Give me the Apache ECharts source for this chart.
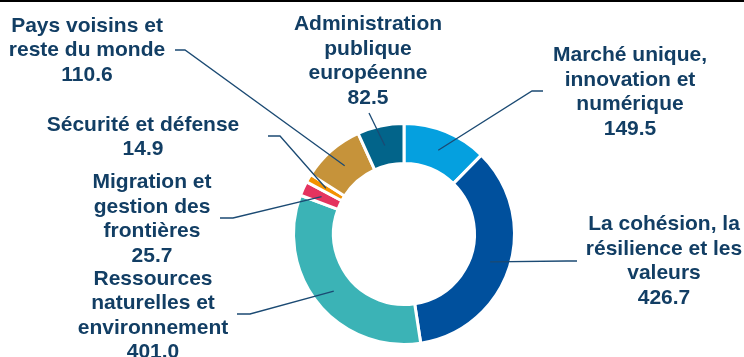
<!DOCTYPE html>
<html>
<head>
<meta charset="utf-8">
<script src="https://cdn.jsdelivr.net/npm/echarts@6/dist/echarts.min.js"></script>
<style>
html,body{margin:0;padding:0;background:#fff;}
#c{width:744px;height:357px;}
</style>
</head>
<body>
<div id="c"></div>
<script>
// ---- data ----
var categories = [
  "Marché unique,\ninnovation et\nnumérique",
  "La cohésion, la\nrésilience et les\nvaleurs",
  "Ressources\nnaturelles et\nenvironnement",
  "Migration et\ngestion des\nfrontières",
  "Sécurité et défense",
  "Pays voisins et\nreste du monde",
  "Administration\npublique\neuropéenne"
];
var values = [149.5, 426.7, 401.0, 25.7, 14.9, 110.6, 82.5];
var colors = ["#05A0DF", "#00509D", "#3BB3B6", "#E4335F", "#F39200", "#C6933A", "#02648A"];

// ---- layout (label placement, pixels) ----
var CX = 404, CY = 234, R_IN = 70.5, R_OUT = 110.5, R_MID = 90.5;
var labelPos = [
  {x: 630, y: 92,  line: [[532, 91], [543, 91]]},
  {x: 664, y: 261, line: [[567, 261], [577, 261]]},
  {x: 153, y: 315.5, line: [[250, 314], [237, 314]]},
  {x: 152, y: 219, line: [[233, 218], [220, 218]]},
  {x: 143, y: 137, line: [[280, 136], [268, 136]]},
  {x: 87,  y: 50.5, line: [[185, 50], [175, 50]]},
  {x: 368, y: 61,  line: [[369, 113], [369, 113]]}
];

var total = values.reduce(function (a, b) { return a + b; }, 0);
function midAngle(i) {
  var before = 0;
  for (var k = 0; k < i; k++) before += values[k];
  return (before + values[i] / 2) / total * Math.PI * 2;
}

var chart = echarts.init(document.getElementById('c'), null, {renderer: 'canvas'});
chart.setOption({
  animation: false,
  backgroundColor: '#fff',
  graphic: [{type: 'rect', shape: {x: 0, y: 0, width: 744, height: 2}, style: {fill: '#000'}}],
  series: [{
    type: 'pie',
    z: 2,
    center: [CX, CY],
    radius: [R_IN, R_OUT],
    startAngle: 90,
    clockwise: true,
    silent: true,
    data: categories.map(function (n, i) {
      return {name: n, value: values[i], itemStyle: {color: colors[i]}};
    }),
    itemStyle: {borderColor: '#fff', borderWidth: 3},
    label: {show: false},
    labelLine: {show: false}
  }, {
    type: 'pie',
    z: 5,
    center: [CX, CY],
    radius: [R_IN, R_OUT],
    startAngle: 90,
    clockwise: true,
    avoidLabelOverlap: false,
    silent: true,
    data: categories.map(function (n, i) {
      return {name: n, value: values[i]};
    }),
    itemStyle: {color: 'rgba(0,0,0,0)', borderWidth: 0},
    label: {
      show: true,
      position: 'outside',
      formatter: function (p) { return p.name + '\n' + values[p.dataIndex].toFixed(1); },
      fontFamily: 'Liberation Sans, Arial, sans-serif',
      fontWeight: 'bold',
      fontSize: 21,
      lineHeight: 24.5,
      color: '#123E64',
      align: 'center'
    },
    labelLine: {show: true, showAbove: true, lineStyle: {color: '#1B4A73', width: 1.3}},
    labelLayout: function (params) {
      var i = params.dataIndex;
      var a = midAngle(i);
      var ax = CX + R_MID * Math.sin(a), ay = CY - R_MID * Math.cos(a);
      var lp = labelPos[i];
      return {
        x: lp.x, y: lp.y, align: 'center', verticalAlign: 'middle',
        labelLinePoints: [[ax, ay], lp.line[0], lp.line[1]]
      };
    }
  }]
});
</script>
</body>
</html>
